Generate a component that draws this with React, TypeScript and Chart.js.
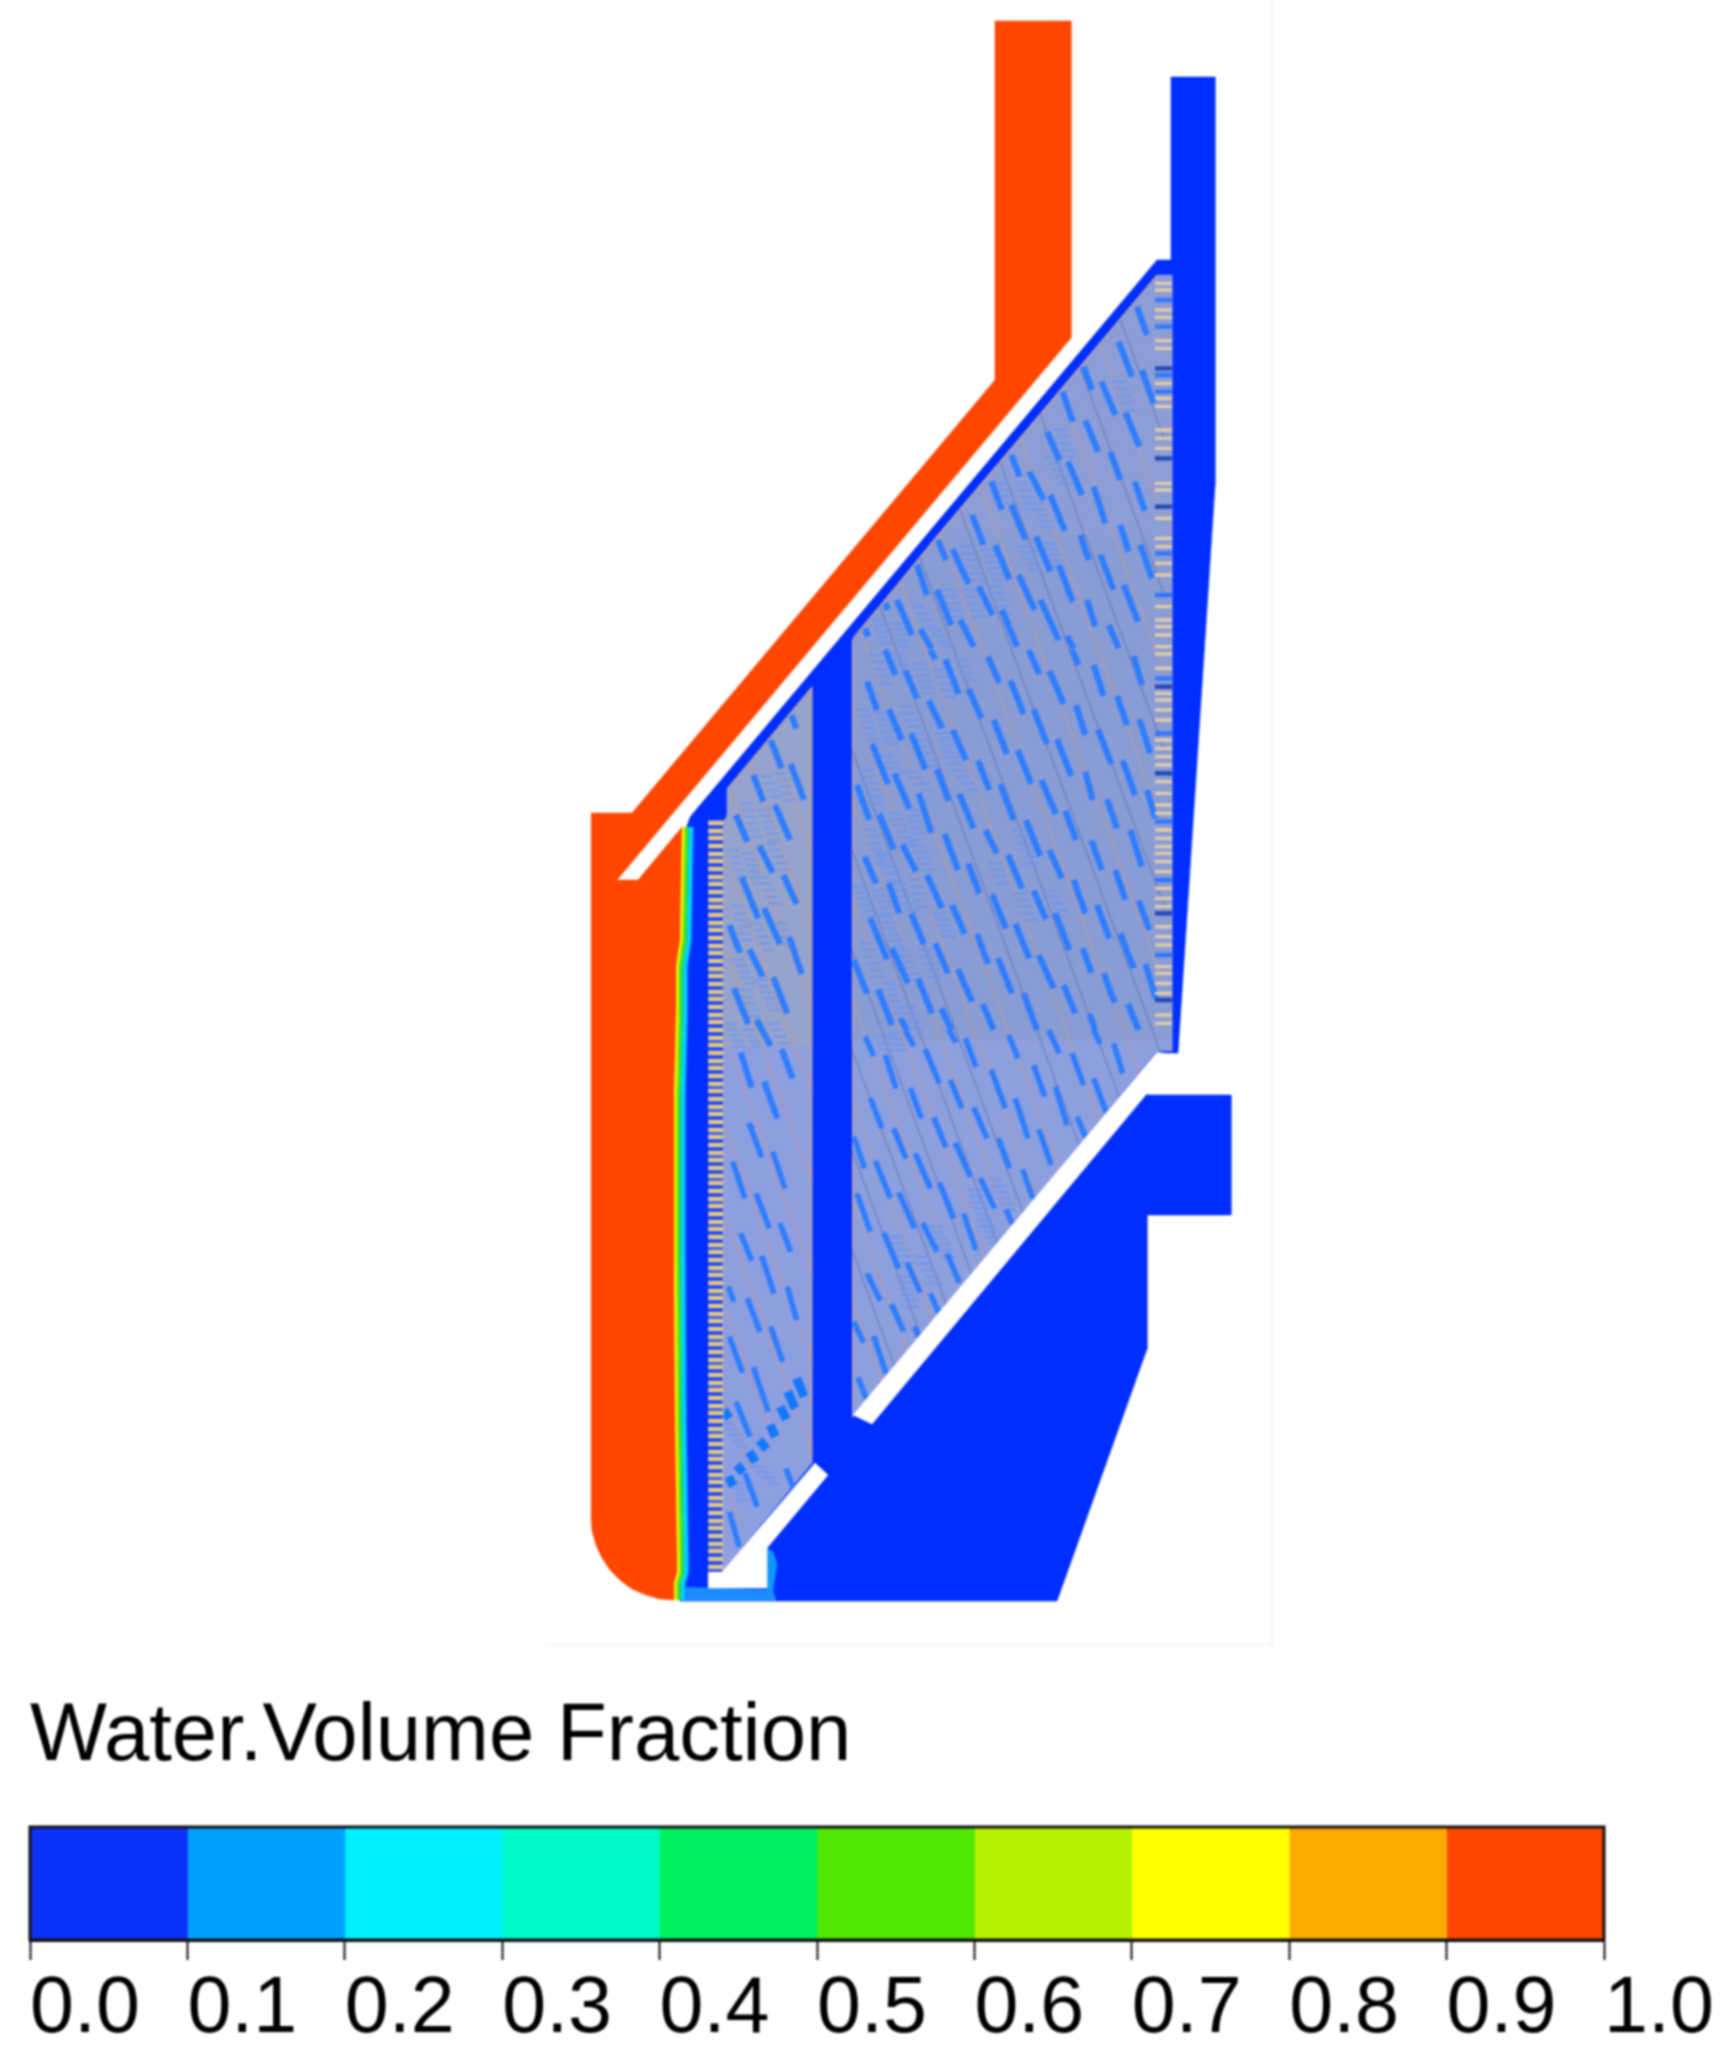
import React, { useEffect, useRef } from "react";
import { Chart, registerables } from "chart.js";

Chart.register(...registerables);

type P = [number, number];
type S = [number, number, number, number];

const legendTitle = "Water.Volume Fraction";
const tickLabels = ["0.0", "0.1", "0.2", "0.3", "0.4", "0.5", "0.6", "0.7", "0.8", "0.9", "1.0"];
const bandWidths = [0.1, 0.1, 0.1, 0.1, 0.1, 0.1, 0.1, 0.1, 0.1, 0.1];
const bandColors = ["#0a32f8", "#00a0ff", "#00f0ff", "#00fac8", "#00f060", "#4ee800", "#b4f200", "#ffff00", "#ffaa00", "#ff4600"];

const redEdge: P[] = [[682, 827], [681, 880], [680, 940], [678, 953], [676, 967], [676, 1013], [674, 1100], [674, 1250], [675, 1420], [677, 1553], [677, 1573], [674, 1583], [674, 1600]];
const redCorner: P[] = [[660, 1599], [646, 1595], [632, 1589], [621, 1581], [610, 1570], [602, 1558], [596, 1545], [592, 1531], [591, 1517]];
const redTop: P[] = [[591, 813], [632, 813], [995, 380], [995, 21], [1071, 21], [1071, 338], [617, 880], [638, 880]];
const blueBody: P[] = [[690, 817], [1157, 260], [1171, 260], [1171, 77], [1215, 77], [1215, 486], [1178, 1053], [1160, 1053], [1147, 1095], [1231, 1095], [1231, 1215], [1147, 1215], [1147, 1349], [1057, 1601], [680, 1601], [680, 1100], [682, 967], [686, 940], [686, 828]];
const gapLower: P[] = [[1157, 1052], [1172, 1055], [1155, 1093.5], [1147, 1093.5], [872, 1424], [853, 1415]];
const gapFoot: P[] = [[708, 1588], [767, 1588], [767, 1548], [828, 1475], [815, 1463], [722, 1572], [708, 1572]];
const footPatch: P[] = [[767, 1548], [773, 1552], [777, 1564], [773, 1590], [767, 1590]];
const footBand: P[] = [[682, 1587], [708, 1588], [773, 1590], [776, 1601], [682, 1601]];

const meshRightA: P[] = [[1157, 275], [1172, 275], [1172, 535], [937, 535]];
const meshRightB: P[] = [[937, 535], [1172, 535], [1172, 1040], [852, 1040], [852, 640]];
const meshRightC: P[] = [[852, 1040], [1172, 1040], [1172, 1051], [1157, 1051], [852, 1418]];
const meshLeftA: P[] = [[812, 687], [812, 1047], [723, 1047], [723, 823], [727, 815], [727, 789]];
const meshLeftB: P[] = [[723, 1047], [812, 1047], [812, 1463], [722, 1572]];

const rightLongTan: S[] = [[1100, 343, 1165, 519], [1060, 391, 1165, 675], [1020, 438, 1165, 830], [980, 486, 1165, 986], [940, 534, 1140, 1075], [900, 582, 1100, 1123], [860, 630, 1060, 1171], [852, 700, 1037, 1199], [852, 800, 1011, 1230], [852, 900, 985, 1260], [852, 1000, 960, 1291], [852, 1100, 934, 1321], [852, 1200, 908, 1352], [852, 1300, 883, 1383]];
const rightLongDark: S[] = [[1120, 319, 1165, 441], [1080, 367, 1165, 597], [1040, 414, 1165, 752], [1000, 462, 1165, 908], [960, 510, 1160, 1051], [920, 558, 1120, 1099], [880, 606, 1080, 1147], [852, 750, 1024, 1215], [852, 850, 998, 1245], [852, 950, 972, 1275], [852, 1050, 947, 1306], [852, 1150, 921, 1336], [852, 1250, 895, 1367]];
const leftLongTan: S[] = [[770, 740, 812, 856], [750, 764, 812, 931], [730, 788, 812, 1010], [726, 860, 812, 1092], [726, 950, 812, 1182], [726, 1040, 812, 1272], [726, 1130, 812, 1362], [726, 1220, 812, 1452], [726, 1310, 772, 1434], [726, 1400, 752, 1470], [726, 1480, 738, 1520]];
const panelEdges: S[] = [[853, 640, 853, 1410], [811, 690, 811, 1460], [1157, 275, 853, 638], [812, 687, 727, 789]];

const dashesA: S[] = [[855,110,885,195],[800,215,840,320],[748,335,790,435],[870,300,905,400],[820,428,862,530],[700,452,738,545],[775,545,805,630],[848,635,878,722],[695,290,720,360],[632,365,662,455],[585,485,622,570],[648,575,690,675],[532,605,575,690],[595,675,638,782],[725,650,760,760],[478,555,503,620],[418,635,450,720],[478,705,520,808],[360,735,395,825],[430,825,472,928],[552,800,595,905],[685,795,710,870],[805,765,830,845],[865,825,900,925],[745,855,785,960],[620,885,662,995],[500,915,548,1020],[380,950,422,1035],[302,838,350,942],[258,810,282,870],[195,885,225,975],[255,960,298,1065],[135,990,180,1095],[815,945,858,1055],[705,990,730,1070],[565,990,620,1110],[450,1020,495,1130],[325,1050,365,1130],[205,1078,238,1135],[770,1065,800,1135],[645,1098,665,1135],[100,1000,108,1020],[40,1075,48,1100]];
const dashesB: S[] = [[45,95,75,180],[110,178,150,270],[160,62,195,145],[100,0,130,75],[235,0,250,28],[280,28,320,132],[230,152,270,235],[350,118,388,205],[408,20,442,98],[475,92,515,192],[530,0,562,72],[592,62,635,162],[545,178,585,282],[425,210,465,312],[302,240,342,330],[178,252,220,358],[60,282,108,402],[128,372,172,475],[255,358,290,452],[378,332,412,420],[497,300,538,402],[615,268,658,378],[672,165,700,255],[725,45,755,138],[660,0,680,45],[795,138,825,225],[845,18,870,105],[862,208,895,310],[738,238,778,342],[812,332,850,436],[700,365,722,450],[568,390,612,492],[445,402,485,510],[322,432,365,535],[200,430,238,548],[15,405,52,510],[82,492,125,598],[152,585,192,665],[278,552,318,660],[400,540,435,610],[522,510,565,618],[640,482,672,570],[765,448,795,535],[885,420,910,505],[835,540,870,650],[718,572,750,660],[592,600,630,685],[468,615,510,715],[348,640,382,730],[225,675,270,775],[110,700,142,790],[38,620,72,700],[55,805,105,928],[178,792,215,882],[300,765,338,852],[420,733,462,835],[545,722,582,808],[665,690,700,790],[790,660,820,750],[860,752,892,840],[735,765,772,865],[610,790,652,900],[490,822,532,925],[375,852,408,942],[250,880,288,970],[120,895,168,1000],[5,930,45,1030],[78,1018,120,1125],[198,985,240,1090],[318,958,360,1055],[438,925,480,1030],[560,915,605,1015],[692,895,718,968],[805,850,845,955],[880,942,912,1045],[755,970,788,1058],[635,1005,670,1090],[515,1030,555,1140],[392,1062,425,1140],[268,1075,298,1140],[145,1105,165,1140],[828,1062,860,1140],[712,1092,730,1140]];
const dashesC: S[] = [[40,20,65,78],[160,0,185,48],[290,0,312,38],[340,25,372,110],[470,15,498,85],[590,0,622,70],[725,0,745,42],[660,70,695,165],[785,40,812,130],[100,75,132,175],[220,58,262,160],[295,150,330,235],[418,120,460,235],[545,105,578,200],[610,170,645,285],[725,145,762,245],[175,175,208,265],[55,205,90,295],[125,295,162,385],[245,262,282,352],[365,232,405,325],[490,205,528,325],[675,260,700,320],[560,298,598,405],[440,325,472,415],[310,338,355,440],[190,370,235,475],[70,392,115,505],[5,320,38,415],[15,490,55,605],[140,488,188,595],[262,458,305,565],[385,445,428,535],[512,418,542,505],[462,538,480,582],[335,550,372,660],[212,580,255,665],[95,608,140,715],[285,670,322,758],[165,698,205,788],[45,730,85,812],[235,790,260,848],[118,822,155,905],[5,875,35,938],[188,890,200,920],[65,918,102,1030],[18,1042,42,1105]];
const dashesD: S[] = [[275,105,288,145],[212,180,245,265],[160,285,190,365],[272,252,312,360],[225,375,270,480],[108,405,142,485],[178,498,218,578],[250,585,290,672],[125,592,175,715],[192,685,240,792],[88,735,120,818],[148,808,188,890],[268,772,305,882],[220,892,262,1000],[102,925,145,1032],[170,1020,212,1098],[245,1108,278,1195],[122,1118,155,1222],[192,1205,232,1315],[145,1330,158,1350]];
const dashesE: S[] = [[155,0,185,82],[98,95,135,205],[218,65,255,175],[168,190,208,295],[240,280,272,365],[122,310,155,392],[185,378,222,490],[262,470,290,570],[85,470,102,515],[142,505,180,605],[212,590,248,695],[88,620,128,728],[160,712,205,845],[108,815,150,920],[135,1030,172,1130],[258,1015,278,1070],[88,1145,118,1250]];
const blocksE: S[] = [[290,745,312,800],[263,785,285,835],[241,830,259,868],[210,885,226,920],[178,930,200,958],[147,965,167,995],[110,1005,130,1028],[85,1040,100,1068],[72,840,88,865]];

const rungsA: S[] = [[450,640,490,720],[510,640,540,720],[600,560,640,640],[620,480,650,560],[560,700,590,770],[800,335,830,420],[340,830,380,930],[410,840,440,930],[520,830,550,900],[590,820,620,890],[290,960,320,1040],[350,960,380,1040],[430,950,460,1030],[200,1010,230,1070],[80,1050,100,1120],[130,1060,160,1130],[250,1080,290,1130]];
const rungsB: S[] = [[70,15,100,100],[140,10,165,80],[200,40,230,130],[262,60,292,140],[330,30,350,90],[85,190,120,280],[160,170,195,250],[30,180,60,270],[270,250,305,340],[210,270,240,350],[105,320,135,370],[175,365,225,420],[310,340,360,420],[40,360,70,440],[60,420,80,480],[125,490,165,580],[180,480,200,550],[55,540,85,640],[90,610,125,690],[190,570,230,660],[20,710,60,800],[80,720,110,790],[140,700,180,780],[190,690,215,770],[100,800,140,890],[260,790,290,860],[155,900,190,990],[45,880,80,980],[220,900,250,980],[105,1000,140,1090],[170,1070,195,1135],[500,730,535,810],[590,720,625,780],[430,640,450,700],[500,540,540,640]];
const rungsC: S[] = [[85,20,105,60],[125,10,145,60],[370,480,400,590],[430,450,470,540],[400,570,430,640],[250,590,290,680],[210,680,250,760],[130,620,170,700],[150,740,180,830]];
const rungsD: S[] = [[200,290,225,350],[240,280,265,360],[140,370,170,470],[190,390,225,480],[215,490,250,570],[100,510,125,590],[145,520,175,610],[190,590,225,670],[115,680,140,780],[165,730,205,810],[245,730,265,790],[115,840,150,910],[185,900,225,990],[135,930,165,1010],[90,1030,120,1100],[145,1050,170,1100],[220,1030,250,1090]];
const rungsE: S[] = [[85,880,125,950],[170,1010,220,1060],[110,1060,130,1110]];

const leftTeethY = [823,831,838,846,854,861,869,877,884,892,900,907,915,923,930,938,946,953,961,969,976,984,992,999,1007,1015,1022,1030,1038,1045,1053,1061,1068,1076,1084,1091,1099,1107,1114,1122,1130,1137,1145,1153,1160,1168,1176,1183,1191,1199,1206,1214,1222,1229,1237,1245,1252,1260,1268,1275,1283,1291,1298,1306,1314,1321,1329,1337,1344,1352,1360,1367,1375,1383,1390,1398,1406,1413,1421,1429,1436,1444,1452,1459,1467,1475,1482,1490,1498,1505,1513,1521,1528,1536,1544,1551,1559,1567];
const rightTeethTanA = [40,60,120,142,212,235,340,385,410,480,505,535,640,660,745,805,830,880,915,1010,1050,1070,1095,1130];
const rightTeethBlueA = [90,170,315,365,850,975];
const rightTeethDarkA = [295,565,710];
const rightTeethTanB = [12,55,130,150,180,210,270,295,320,345,395,430,465,490,540,565,590,610,635,665,715,745,770,830,860,885,950,970,1000,1030,1095,1120];
const rightTeethBlueB = [85,250,515,690,915];
const rightTeethDarkB = [110,370,790,1050];

const cropA: P = [852, 270];
const cropB: P = [852, 650];
const cropC: P = [852, 1030];
const cropD: P = [700, 680];
const cropE: P = [700, 1130];

const GAP = { x: NaN, y: NaN };
const pts = (a: P[]) => a.map(([x, y]) => ({ x, y }));
const figSegs = (a: S[]) => a.flatMap(([x1, y1, x2, y2]) => [{ x: x1, y: y1 }, { x: x2, y: y2 }, GAP]);
const toFig = (a: S[], o: P) => a.map(([x1, y1, x2, y2]) => [o[0] + x1 / 3, o[1] + y1 / 3, o[0] + x2 / 3, o[1] + y2 / 3] as S);
const cropSegs = (a: S[], o: P) => figSegs(toFig(a, o));
const teeth = (ys: number[], x1: number, x2: number) => ys.flatMap((y) => [{ x: x1, y }, { x: x2, y }, GAP]);
const cropY = (ys: number[], o: P) => ys.map((z) => o[1] + z / 3);
const rungSegs = (a: S[], o: P, half: number) =>
  toFig(a, o).flatMap(([x1, y1, x2, y2]) => {
    const out: any[] = [];
    const rows = Math.max(2, Math.round((y2 - y1) / 6.4));
    for (let i = 0; i <= rows; i++) {
      const t = i / rows;
      const cx = x1 + (x2 - x1) * t;
      const y = y1 + (y2 - y1) * t;
      out.push({ x: cx - half, y }, { x: cx + half, y }, GAP);
    }
    return out;
  });

const poly = (a: P[], color: string) => ({
  type: "line", data: pts(a), fill: "shape", backgroundColor: color, borderColor: color, borderWidth: 0.5, pointRadius: 0, tension: 0,
});
const stroke = (data: any[], color: string, width: number) => ({
  type: "line", data, fill: false, borderColor: color, borderWidth: width, pointRadius: 0, tension: 0, spanGaps: false, borderCapStyle: "butt",
});

const edgeOffset = (d: number) => redEdge.map(([x, y]) => ({ x: x + d, y }));

const BLUE = "#002eff";
const RUNG = "rgba(105,150,240,0.7)";
const DASH = "#2e7dff";

function buildLayers() {
  const layers: any[] = [
    stroke(pts([[1272, 0], [1272, 1645], [545, 1645]]), "#f3f3f3", 1.5),
    poly([...redTop, ...redEdge, ...redCorner], "#ff4600"),
    poly(blueBody, BLUE),
    poly(footBand, "#1c8cff"),
    poly(footPatch, "#0f96ff"),
    stroke(edgeOffset(11), "#0090ff", 2),
    stroke(edgeOffset(8.5), "#00d8f8", 4),
    stroke(edgeOffset(4.5), "#44e820", 4),
    stroke(edgeOffset(1.5), "#e4f000", 3),
    poly(meshRightA, "#8d9ed6"),
    poly(meshRightB, "#8a9cd4"),
    poly(meshRightC, "#8e9fdd"),
    poly(meshLeftA, "#96a3cc"),
    poly(meshLeftB, "#8e9fe0"),
    stroke(figSegs(panelEdges), "rgba(195,160,140,0.75)", 1.5),
    stroke(figSegs(rightLongTan), "rgba(195,155,150,0.6)", 1.5),
    stroke(figSegs(rightLongDark), "rgba(80,100,170,0.45)", 1.5),
    stroke(figSegs(leftLongTan), "rgba(195,150,150,0.65)", 1.5),
    stroke(rungSegs(rungsA, cropA, 7), RUNG, 2.6),
    stroke(rungSegs(rungsB, cropB, 7), RUNG, 2.6),
    stroke(rungSegs(rungsC, cropC, 7), RUNG, 2.6),
    stroke(rungSegs(rungsD, cropD, 6), RUNG, 2.6),
    stroke(rungSegs(rungsE, cropE, 6), RUNG, 2.6),
    stroke(cropSegs(dashesA, cropA), DASH, 6.2),
    stroke(cropSegs(dashesB, cropB), DASH, 6.2),
    stroke(cropSegs(dashesC, cropC), DASH, 5.6),
    stroke(cropSegs(dashesD, cropD), DASH, 6.2),
    stroke(cropSegs(dashesE, cropE), DASH, 5.6),
    stroke(cropSegs(blocksE, cropE), "#1478ff", 9),
    stroke(teeth(leftTeethY, 708, 724), "rgba(165,170,195,0.95)", 5.4),
    stroke(teeth(leftTeethY, 709, 723), "#f0ca70", 3),
    stroke(teeth([...cropY(rightTeethTanA, cropA), ...cropY(rightTeethTanB, cropB)], 1155, 1172), "#e0ccaa", 3.4),
    stroke(teeth([...cropY(rightTeethBlueA, cropA), ...cropY(rightTeethBlueB, cropB)], 1155, 1172), "#2f78ff", 4.4),
    stroke(teeth([...cropY(rightTeethDarkA, cropA), ...cropY(rightTeethDarkB, cropB)], 1155, 1172), "#2148b8", 4.4),
    poly(gapLower, "#ffffff"),
    poly(gapFoot, "#ffffff"),
  ];
  return layers.map((l, i) => ({ ...l, order: layers.length - i }));
}

const canvasStyle = (top: number, height: number): React.CSSProperties => ({
  position: "absolute", left: 0, top, width: 1735, height, display: "block", filter: "blur(0.8px)",
});

export default function App() {
  const figRef = useRef<HTMLCanvasElement>(null);
  const barRef = useRef<HTMLCanvasElement>(null);

  useEffect(() => {
    const fig = new Chart(figRef.current!, {
      type: "line",
      data: { datasets: buildLayers() },
      options: {
        responsive: false, animation: false, devicePixelRatio: 1,
        layout: { padding: 0 },
        plugins: { legend: { display: false }, tooltip: { enabled: false } },
        scales: {
          x: { type: "linear", min: 0, max: 1735, display: false },
          y: { type: "linear", min: 0, max: 1680, reverse: true, display: false },
        },
      },
    } as any);

    const framePlugin = {
      id: "barFrame",
      afterDatasetsDraw(c: any) {
        const { ctx, chartArea: a } = c;
        ctx.save();
        ctx.strokeStyle = "#111";
        ctx.lineWidth = 3;
        ctx.strokeRect(a.left, a.top, a.right - a.left, a.bottom - a.top);
        ctx.restore();
      },
    };
    const bar = new Chart(barRef.current!, {
      type: "bar",
      data: {
        labels: [legendTitle],
        datasets: bandWidths.map((v, i) => ({ data: [v], backgroundColor: bandColors[i], borderWidth: 0, barPercentage: 1, categoryPercentage: 1 })),
      },
      options: {
        indexAxis: "y", responsive: false, animation: false, devicePixelRatio: 1,
        layout: { padding: { left: 30, right: 131, top: 0, bottom: 0 } },
        plugins: {
          legend: { display: false }, tooltip: { enabled: false },
          title: {
            display: true, text: legendTitle, align: "start", color: "#000",
            font: { family: "'Liberation Sans'", size: 81.5, weight: "normal", lineHeight: 1 },
            padding: { top: 17, bottom: 48.5 },
          },
        },
        scales: {
          x: {
            type: "linear", stacked: true, min: 0, max: 1,
            afterFit: (s: any) => { s.height = 120; },
            grid: { drawOnChartArea: false, drawTicks: true, tickLength: 20, color: "#111", tickWidth: 2 },
            border: { display: true, color: "#111", width: 3 },
            ticks: {
              stepSize: 0.1, autoSkip: false, maxRotation: 0, minRotation: 0, align: "start", color: "#000", padding: 3,
              font: { family: "'Liberation Sans'", size: 79 },
              callback: (_: any, i: number) => tickLabels[i],
            },
          },
          y: { stacked: true, display: false },
        },
      },
      plugins: [framePlugin],
    } as any);

    return () => { fig.destroy(); bar.destroy(); };
  }, []);

  return (
    <div style={{ position: "absolute", left: 0, top: 0, width: 1735, height: 2060, background: "#fff", overflow: "hidden" }}>
      <canvas ref={figRef} width={1735} height={1680} style={canvasStyle(0, 1680)} />
      <canvas ref={barRef} width={1735} height={380} style={canvasStyle(1680, 380)} />
    </div>
  );
}
